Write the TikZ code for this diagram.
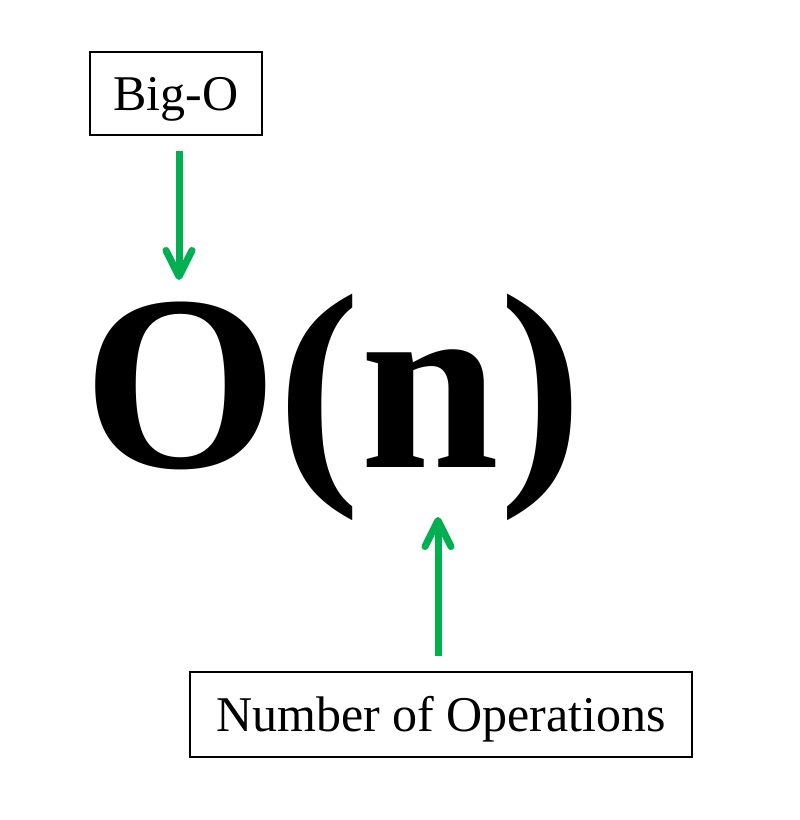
\documentclass[tikz,border=0pt]{standalone}
\usepackage{fontspec}
\setmainfont{Liberation Serif}
\usetikzlibrary{arrows.meta}
\definecolor{arrowgreen}{RGB}{0,176,80}
\tikzset{>={Straight Barb[length=26pt, width=26pt, round]}}

\begin{document}
\begin{tikzpicture}[x=1pt, y=-1pt,
    label_box/.style={rectangle, draw=black, line width=1.8pt, inner sep=0pt, font=\fontsize{50}{60}\selectfont, text height=34pt, text depth=0pt},
    pointer/.style={->, draw=arrowgreen, line width=7pt, shorten <=15pt}]
    \useasboundingbox (0,0) rectangle (800,820);

    \node[anchor=base west, inner sep=0pt, font=\fontsize{250}{300}\selectfont\bfseries] (formula) at (83,467) {O(n)};

    \node[label_box, minimum width=172pt, minimum height=83pt] (bigo) at (176,93.5) {Big-O};
    \node[label_box, minimum width=502pt, minimum height=85pt] (ops) at (441,714.5) {Number of Operations};

    \coordinate (otop) at (179,280);
    \coordinate (nbot) at (438,517);
    \draw[pointer] (bigo.south -| otop) -- (otop);
    \draw[pointer] (ops.north -| nbot) -- (nbot);
\end{tikzpicture}
\end{document}
